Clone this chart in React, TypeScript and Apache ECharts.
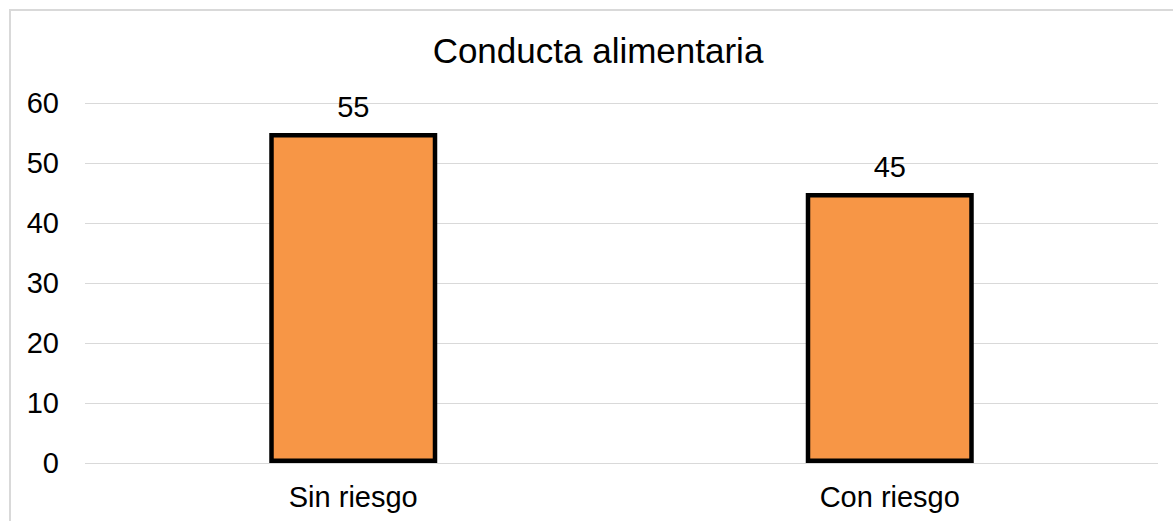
import React, { useEffect, useRef } from "react";
import * as echarts from "echarts";

const titleText = "Conducta alimentaria";
const categories = ["Sin riesgo", "Con riesgo"];
const values = [55, 45];
const yMin = 0;
const yMax = 60;
const yStep = 10;

export default function App() {
  const ref = useRef<HTMLDivElement>(null);
  useEffect(() => {
    if (!ref.current) return;
    const chart = echarts.init(ref.current, null, { renderer: "svg" });
    const font = "'Liberation Sans', Arial, sans-serif";
    chart.setOption({
      animation: false,
      backgroundColor: "#ffffff",
      graphic: [
        {
          type: "rect",
          shape: { x: 10, y: 10, width: 1220, height: 600 },
          style: { fill: "none", stroke: "#d9d9d9", lineWidth: 2 },
          silent: true,
        },
        {
          type: "text",
          x: 598,
          y: 50,
          style: {
            text: titleText,
            font: `35px ${font}`,
            fill: "#000000",
            textAlign: "center",
            textVerticalAlign: "middle",
          },
        },
      ],
      grid: { left: 85, right: 15, top: 103, bottom: 58, containLabel: false },
      xAxis: {
        type: "category",
        data: categories,
        axisLine: { show: false },
        axisTick: { show: false },
        axisLabel: { color: "#000000", fontSize: 29, fontFamily: font, margin: 19 },
      },
      yAxis: {
        type: "value",
        min: yMin,
        max: yMax,
        interval: yStep,
        axisLine: { show: false },
        axisTick: { show: false },
        axisLabel: { color: "#000000", fontSize: 29, fontFamily: font, margin: 26 },
        splitLine: { lineStyle: { color: "#d9d9d9", width: 1 } },
      },
      series: [
        {
          type: "bar",
          data: values,
          barWidth: 168,
          itemStyle: { color: "#F79646", borderColor: "#000000", borderWidth: 4.5 },
          label: {
            show: true,
            position: "top",
            distance: 12,
            color: "#000000",
            fontSize: 29,
            fontFamily: font,
          },
        },
      ],
    });
    return () => chart.dispose();
  }, []);
  return (
    <div
      ref={ref}
      style={{ position: "absolute", left: 0, top: 0, width: 1173, height: 521 }}
    />
  );
}
